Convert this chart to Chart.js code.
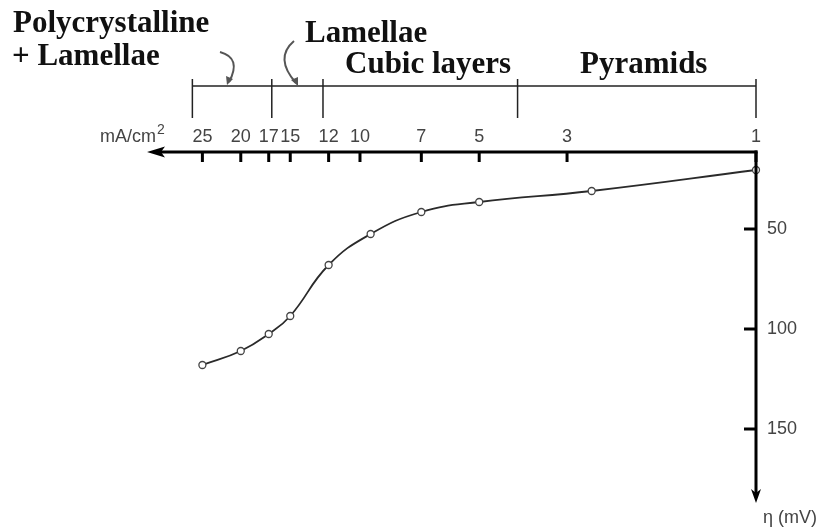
<!DOCTYPE html>
<html><head><meta charset="utf-8">
<script src="https://cdn.jsdelivr.net/npm/chart.js@4/dist/chart.umd.min.js"></script>
<style>html,body{margin:0;padding:0;background:#fff;}canvas{display:block;}</style>
</head><body>
<canvas id="c" width="828" height="531"></canvas>
<script>
// ---- data ----
const currentDensity = [25, 20, 17, 15, 12, 9.4, 7, 5, 2.6, 1];          // mA/cm^2
const overpotential  = [118, 111, 102.5, 93.5, 68, 52.5, 41.5, 36.5, 31, 20.5]; // mV
const xTickValues = [25, 20, 17, 15, 12, 10, 7, 5, 3, 1];
const yTickValues = [50, 100, 150];
const regionBounds = [26.5, 16.7, 12.4, 4, 1];
const regionLabels = ['Polycrystalline', '+ Lamellae', 'Lamellae', 'Cubic layers', 'Pyramids'];
const xUnit = 'mA/cm';
const yUnit = 'η (mV)';

const points = currentDensity.map((x, i) => ({x: x, y: overpotential[i]}));
const SANS = '"Liberation Sans", Arial, sans-serif';

const decor = {
  id: 'decor',
  afterDatasetsDraw(chart) {
    const ctx = chart.ctx;
    const xs = chart.scales.x, ys = chart.scales.y;
    const top = chart.chartArea.top, bottom = chart.chartArea.bottom;
    const axX = xs.getPixelForValue(1);
    ctx.save();
    ctx.strokeStyle = '#000'; ctx.fillStyle = '#000';
    // x axis
    ctx.lineWidth = 3;
    ctx.beginPath(); ctx.moveTo(xs.left + 10, top); ctx.lineTo(axX + 1.5, top); ctx.stroke();
    ctx.beginPath(); ctx.moveTo(xs.left - 1, top); ctx.lineTo(xs.left + 17, top - 5.5); ctx.lineTo(xs.left + 13, top); ctx.lineTo(xs.left + 17, top + 5.5); ctx.closePath(); ctx.fill();
    xTickValues.forEach(v => {
      const px = xs.getPixelForValue(v);
      ctx.beginPath(); ctx.moveTo(px, top); ctx.lineTo(px, top + 10); ctx.stroke();
    });
    // y axis
    ctx.beginPath(); ctx.moveTo(axX, top - 1.5); ctx.lineTo(axX, bottom - 10); ctx.stroke();
    ctx.beginPath(); ctx.moveTo(axX, bottom); ctx.lineTo(axX - 5, bottom - 14); ctx.lineTo(axX, bottom - 10); ctx.lineTo(axX + 5, bottom - 14); ctx.closePath(); ctx.fill();
    yTickValues.forEach(v => {
      const py = ys.getPixelForValue(v);
      ctx.beginPath(); ctx.moveTo(axX - 12, py); ctx.lineTo(axX, py); ctx.stroke();
    });
    // tick labels
    ctx.fillStyle = '#444';
    ctx.font = '18px ' + SANS;
    ctx.textAlign = 'center'; ctx.textBaseline = 'alphabetic';
    xTickValues.forEach(v => {
      ctx.fillText(String(v), xs.getPixelForValue(v), top - 10);
    });
    ctx.textAlign = 'left'; ctx.textBaseline = 'middle';
    yTickValues.forEach(v => {
      ctx.fillText(String(v), axX + 11, ys.getPixelForValue(v));
    });
    // region bracket
    ctx.lineWidth = 1.5; ctx.strokeStyle = '#222';
    const by = 86;
    ctx.beginPath(); ctx.moveTo(xs.getPixelForValue(regionBounds[0]), by); ctx.lineTo(xs.getPixelForValue(regionBounds[regionBounds.length-1]), by); ctx.stroke();
    regionBounds.forEach(v => {
      const px = xs.getPixelForValue(v);
      ctx.beginPath(); ctx.moveTo(px, 79); ctx.lineTo(px, 118); ctx.stroke();
    });
    // curved arrows
    ctx.strokeStyle = '#555'; ctx.fillStyle = '#555'; ctx.lineWidth = 2;
    ctx.beginPath(); ctx.moveTo(220, 52); ctx.quadraticCurveTo(242, 58, 229, 82); ctx.stroke();
    ctx.beginPath(); ctx.moveTo(227, 85); ctx.lineTo(226, 76); ctx.lineTo(233, 79); ctx.closePath(); ctx.fill();
    ctx.beginPath(); ctx.moveTo(294, 41); ctx.quadraticCurveTo(274, 58, 296, 83); ctx.stroke();
    ctx.beginPath(); ctx.moveTo(298, 86); ctx.lineTo(291, 80); ctx.lineTo(298, 77); ctx.closePath(); ctx.fill();
    // labels
    ctx.fillStyle = '#111';
    ctx.font = 'bold 31px "Liberation Serif", "Times New Roman", serif';
    ctx.textBaseline = 'alphabetic'; ctx.textAlign = 'left';
    ctx.fillText(regionLabels[0], 13, 32);
    ctx.fillText(regionLabels[1], 12, 65);
    ctx.fillText(regionLabels[2], 305, 42);
    ctx.fillText(regionLabels[3], 345, 73);
    ctx.fillText(regionLabels[4], 580, 73);
    // units
    ctx.fillStyle = '#444';
    ctx.font = '18px ' + SANS;
    ctx.fillText(xUnit, 100, 142);
    const w = ctx.measureText(xUnit).width;
    ctx.font = '14px ' + SANS;
    ctx.fillText('2', 100 + w + 1, 134);
    ctx.font = '18px ' + SANS;
    ctx.fillText(yUnit, 763, 523);
    ctx.restore();
  }
};

new Chart(document.getElementById('c'), {
  type: 'line',
  data: {
    datasets: [{
      data: points,
      borderColor: '#2a2a2a',
      borderWidth: 1.8,
      tension: 0.45,
      pointRadius: 3.5,
      pointBackgroundColor: '#fff',
      pointBorderColor: '#444',
      pointBorderWidth: 1.3,
      clip: false
    }]
  },
  options: {
    responsive: false,
    animation: false,
    devicePixelRatio: 1,
    layout: { padding: { top: 122, left: 148, right: 12, bottom: 28 } },
    plugins: { legend: { display: false }, tooltip: { enabled: false } },
    scales: {
      x: {
        type: 'logarithmic', position: 'top', reverse: true,
        min: 1, max: 34.3,
        afterBuildTicks: s => { s.ticks = xTickValues.map(v => ({value: v})); },
        afterFit: s => { s.height = 30; },
        grid: { display: false }, border: { display: false },
        ticks: { display: false, autoSkip: false, maxRotation: 0 }
      },
      y: {
        type: 'linear', position: 'right', reverse: true,
        min: 11.5, max: 187,
        afterBuildTicks: s => { s.ticks = yTickValues.map(v => ({value: v})); },
        afterFit: s => { s.width = 60; },
        grid: { display: false }, border: { display: false },
        ticks: { display: false }
      }
    }
  },
  plugins: [decor]
});
</script>
</body></html>
